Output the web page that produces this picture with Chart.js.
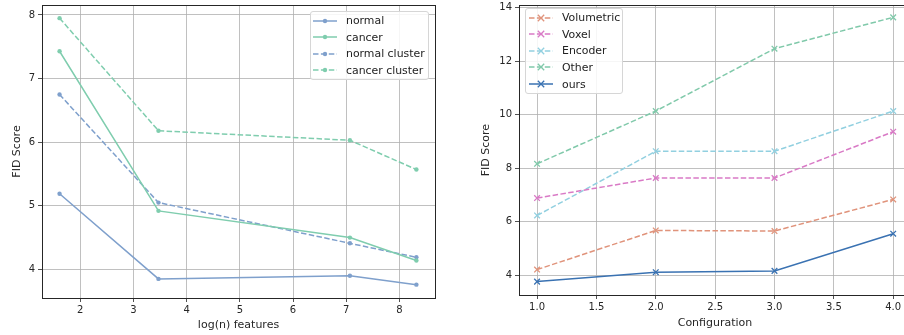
<!DOCTYPE html>
<html>
<head>
<meta charset="utf-8">
<script src="https://cdn.jsdelivr.net/npm/chart.js@4.4.0/dist/chart.umd.min.js"></script>
<style>
  html, body { margin:0; padding:0; width:904px; height:335px; overflow:hidden; background:#fff; }
  #wrap { position:relative; width:904px; height:335px; overflow:hidden; }
  .cbox { position:absolute; top:0; height:335px; }
  .legend { position:absolute; background:rgba(255,255,255,0.85); border:1px solid #d6d6d6; border-radius:3px;
            font-family:"DejaVu Sans", sans-serif; font-size:10.9px; color:#222; box-sizing:border-box; }
  .legend .row { position:absolute; left:0; height:16px; display:flex; align-items:center; white-space:nowrap; }
  .legend svg { display:block; }
  .legend span { display:block; }
</style>
</head>
<body>
<div id="wrap">
  <div class="cbox" style="left:0;width:470px;"><canvas id="c1" width="470" height="335"></canvas></div>
  <div class="cbox" style="left:460px;width:460px;"><canvas id="c2" width="460" height="335"></canvas></div>
  <div class="legend" id="leg1" style="left:310px;top:11px;width:119px;height:69px;"></div>
  <div class="legend" id="leg2" style="left:525px;top:8px;width:98px;height:86px;"></div>
</div>
<script>
// ---------- Left chart data ----------
const logFeatures = [1.61, 3.47, 7.07, 8.32];
const normal = [5.19, 3.85, 3.90, 3.76];
const cancer = [7.43, 4.92, 4.50, 4.14];
const normalCluster = [6.75, 5.05, 4.41, 4.19];
const cancerCluster = [7.95, 6.18, 6.03, 5.57];
const leftTicksX = [2, 3, 4, 5, 6, 7, 8];
const leftTicksY = [4, 5, 6, 7, 8];

// ---------- Right chart data ----------
const configurations = [1.0, 2.0, 3.0, 4.0];
const volumetric = [4.22, 5.68, 5.66, 6.84];
const voxel = [6.89, 7.64, 7.64, 9.37];
const encoder = [6.24, 8.64, 8.64, 10.14];
const other = [8.17, 10.14, 12.47, 13.64];
const ours = [3.77, 4.12, 4.17, 5.56];
const rightTicksX = [1.0, 1.5, 2.0, 2.5, 3.0, 3.5, 4.0];
const rightTicksY = [4, 6, 8, 10, 12, 14];

const TICK_FONT = { family: 'DejaVu Sans', size: 10 };
const TITLE_FONT = { family: 'DejaVu Sans', size: 11 };
const BLUE_L = '#7fa0cc', GREEN_L = '#7fcdae';
const DASH = [5.5, 2.4];

function pts(xs, ys) { return xs.map((x, i) => ({ x: x, y: ys[i] })); }

const framePlugin = {
  id: 'frame',
  afterDraw(chart) {
    const a = chart.chartArea, ctx = chart.ctx;
    ctx.save();
    ctx.strokeStyle = '#262626';
    ctx.lineWidth = 1;
    ctx.strokeRect(Math.round(a.left) + 0.5, Math.round(a.top) + 0.5, Math.round(a.right - a.left), Math.round(a.bottom - a.top));
    ctx.restore();
  }
};

function axisOpts(min, max, ticks, fmt, title, isX, fixedSize, titlePad) {
  return {
    type: 'linear', min: min, max: max,
    afterBuildTicks(s) { s.ticks = ticks.map(v => ({ value: v })); },
    afterFit(s) {
      if (isX) s.height = fixedSize; else s.width = fixedSize;
      s.paddingTop = 0; s.paddingBottom = 0; s.paddingLeft = 0; s.paddingRight = 0;
    },
    grid: { color: '#b0b0b0', lineWidth: 0.8, tickColor: '#262626', tickLength: 4, drawTicks: true },
    border: { display: true, color: '#262626', width: 1 },
    ticks: { color: '#262626', font: TICK_FONT, padding: isX ? 2 : 3, callback: fmt, autoSkip: false, maxRotation: 0 },
    title: { display: true, text: title, color: '#262626', font: TITLE_FONT,
             padding: isX ? { top: 2, bottom: titlePad } : { top: titlePad, bottom: 0 } }
  };
}

function lineDs(label, xs, ys, color, dashed, pointStyle, radius) {
  return {
    label: label, data: pts(xs, ys), borderColor: color, backgroundColor: color,
    borderWidth: 1.5, borderDash: dashed ? DASH : [], pointStyle: pointStyle,
    pointRadius: radius, pointHoverRadius: radius, pointBorderWidth: pointStyle === 'crossRot' ? 1.3 : 0,
    pointBackgroundColor: color, pointBorderColor: color, tension: 0, fill: false
  };
}

const leftDatasets = [
  lineDs('normal', logFeatures, normal, BLUE_L, false, 'circle', 2.2),
  lineDs('cancer', logFeatures, cancer, GREEN_L, false, 'circle', 2.2),
  lineDs('normal cluster', logFeatures, normalCluster, BLUE_L, true, 'circle', 2.2),
  lineDs('cancer cluster', logFeatures, cancerCluster, GREEN_L, true, 'circle', 2.2)
];

const rightDatasets = [
  lineDs('Volumetric', configurations, volumetric, '#e0937b', true, 'crossRot', 4),
  lineDs('Voxel', configurations, voxel, '#d97ac6', true, 'crossRot', 4),
  lineDs('Encoder', configurations, encoder, '#92d0e0', true, 'crossRot', 4),
  lineDs('Other', configurations, other, '#80c9aa', true, 'crossRot', 4),
  lineDs('ours', configurations, ours, '#3a72b2', false, 'crossRot', 4)
];

new Chart(document.getElementById('c1'), {
  type: 'line',
  plugins: [framePlugin],
  data: { datasets: leftDatasets },
  options: {
    responsive: false, animation: false, devicePixelRatio: 1,
    layout: { padding: { top: 5, right: 35, left: 0, bottom: 0 } },
    plugins: { legend: { display: false }, tooltip: { enabled: false } },
    scales: {
      x: axisOpts(1.28, 8.67, leftTicksX, v => String(v), 'log(n) features', true, 37, 3.5),
      y: axisOpts(3.55, 8.157, leftTicksY, v => String(v), 'FID Score', false, 42, 10.5)
    }
  }
});

new Chart(document.getElementById('c2'), {
  type: 'line',
  plugins: [framePlugin],
  data: { datasets: rightDatasets },
  options: {
    responsive: false, animation: false, devicePixelRatio: 1,
    layout: { padding: { top: 3, right: 9, left: 0, bottom: 0 } },
    plugins: { legend: { display: false }, tooltip: { enabled: false } },
    scales: {
      x: axisOpts(0.848, 4.15, rightTicksX, v => Number(v).toFixed(1), 'Configuration', true, 40, 5.5),
      y: axisOpts(3.27, 14.09, rightTicksY, v => String(v), 'FID Score', false, 59, 19.5)
    }
  }
});

// ---------- HTML legends (real text) ----------
function buildLegend(el, datasets, sampleX, textX, rowTop, rowStep) {
  datasets.forEach((d, i) => {
    const row = document.createElement('div');
    row.className = 'row';
    row.style.top = (rowTop + i * rowStep) + 'px';
    const w = 24, h = 16, c = d.borderColor;
    const dash = d.borderDash.length ? 'stroke-dasharray="' + d.borderDash.join(',') + '"' : '';
    let marker;
    if (d.pointStyle === 'crossRot') {
      marker = '<path d="M8.8 4.8 L15.2 11.2 M8.8 11.2 L15.2 4.8" stroke="' + c + '" stroke-width="1.3"/>';
    } else {
      marker = '<circle cx="12" cy="8" r="2.2" fill="' + c + '"/>';
    }
    row.innerHTML = '<svg width="' + w + '" height="' + h + '" style="margin-left:' + sampleX + 'px">' +
      '<line x1="0" y1="8" x2="' + w + '" y2="8" stroke="' + c + '" stroke-width="1.5" ' + dash + '/>' + marker +
      '</svg><span style="margin-left:' + textX + 'px">' + d.label + '</span>';
    el.appendChild(row);
  });
}
buildLegend(document.getElementById('leg1'), leftDatasets, 2, 9, 0.5, 16.6);
buildLegend(document.getElementById('leg2'), rightDatasets, 3, 9, 0.5, 16.65);
</script>
</body>
</html>
